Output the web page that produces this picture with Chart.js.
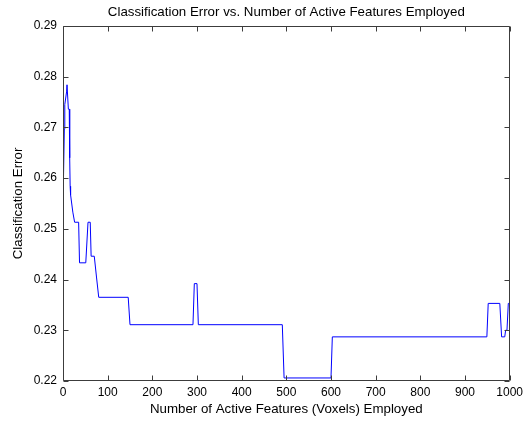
<!DOCTYPE html>
<html><head><meta charset="utf-8">
<script src="https://cdn.jsdelivr.net/npm/chart.js@4.4.1/dist/chart.umd.min.js"></script>
<style>html,body{margin:0;padding:0;background:#fff;overflow:hidden}</style>
</head><body>
<canvas id="c" width="527" height="421" style="display:block;width:527px;height:421px"></canvas>
<script>
// Number of active features (x) and classification error (y)
const featureCounts = [1, 3, 4, 8, 9, 11, 12, 14, 15, 16, 17, 22, 26, 35, 37, 51, 56, 61, 63, 70, 75, 80,
  146, 150, 291, 294, 300, 303, 491, 495, 600, 603, 949, 952, 978, 982, 989, 991, 994, 997, 1000];
const errorRates = [0.2595, 0.2697, 0.2745, 0.2770, 0.2784, 0.2784, 0.2736, 0.2736, 0.2640, 0.2584, 0.2567, 0.2533, 0.2513, 0.2513, 0.2433, 0.2433, 0.2513, 0.2513, 0.2446, 0.2446, 0.2405, 0.2365,
  0.2365, 0.2311, 0.2311, 0.2392, 0.2392, 0.2311, 0.2311, 0.2206, 0.2206, 0.2287, 0.2287, 0.2353, 0.2353, 0.2287, 0.2287, 0.2300, 0.2300, 0.2353, 0.2353];
const xTicks = [0, 100, 200, 300, 400, 500, 600, 700, 800, 900, 1000];
const yTicks = [0.22, 0.23, 0.24, 0.25, 0.26, 0.27, 0.28, 0.29];

const points = featureCounts.map((f, i) => ({x: f, y: errorRates[i]}));
const FONT = 'Liberation Sans, Arial, Helvetica, sans-serif';

const boxPlugin = {
  id: 'box',
  afterDraw(chart) {
    const {ctx, chartArea: a, scales: {x, y}} = chart;
    const L = Math.round(a.left) + 0.5, R = Math.round(a.right) - 0.5;
    const T = Math.round(a.top) + 0.5, B = Math.round(a.bottom) - 0.5;
    ctx.save();
    ctx.strokeStyle = '#3c3c3c';
    ctx.lineWidth = 1;
    ctx.beginPath();
    ctx.rect(L, T, R - L, B - T);
    const tl = 5;
    xTicks.forEach(v => {
      const px = Math.round(x.getPixelForValue(v)) + 0.5;
      ctx.moveTo(px, B); ctx.lineTo(px, B - tl);
      ctx.moveTo(px, T); ctx.lineTo(px, T + tl);
    });
    yTicks.forEach(v => {
      const py = Math.round(y.getPixelForValue(v)) + 0.5;
      ctx.moveTo(L, py); ctx.lineTo(L + tl, py);
      ctx.moveTo(R, py); ctx.lineTo(R - tl, py);
    });
    ctx.stroke();
    ctx.restore();
  }
};

new Chart(document.getElementById('c'), {
  type: 'line',
  data: {
    datasets: [{
      data: points,
      borderColor: '#0000ff',
      borderWidth: 1,
      pointRadius: 0,
      tension: 0,
      fill: false
    }]
  },
  options: {
    responsive: false,
    devicePixelRatio: 1,
    animation: false,
    layout: {padding: {left: 0, right: 15, top: 0, bottom: 0}},
    plugins: {
      legend: {display: false},
      tooltip: {enabled: false},
      title: {
        display: true,
        fullSize: false,
        text: 'Classification Error vs. Number of Active Features Employed',
        color: '#000',
        font: {family: FONT, size: 13.3, weight: 'normal', lineHeight: 1.2},
        padding: {top: 4, bottom: 6}
      }
    },
    scales: {
      x: {
        type: 'linear',
        min: 0, max: 1000,
        afterBuildTicks: s => { s.ticks = xTicks.map(v => ({value: v})); },
        afterFit: s => { s.height = 40; },
        grid: {display: false, drawTicks: false},
        border: {display: false},
        ticks: {color: '#000', font: {family: FONT, size: 12}, padding: 4, maxRotation: 0, autoSkip: false,
          callback: v => String(v)},
        title: {display: true, text: 'Number of Active Features (Voxels) Employed', color: '#000',
          font: {family: FONT, size: 13.3, lineHeight: 1.2}, padding: {top: 0, bottom: 4}}
      },
      y: {
        type: 'linear',
        min: 0.22, max: 0.29,
        afterBuildTicks: s => { s.ticks = yTicks.map(v => ({value: v})); },
        afterFit: s => { s.width = 63; },
        grid: {display: false, drawTicks: false},
        border: {display: false},
        ticks: {color: '#000', font: {family: FONT, size: 12}, padding: 6, callback: v => v.toFixed(2), autoSkip: false},
        title: {display: true, text: 'Classification Error', color: '#000',
          font: {family: FONT, size: 13.3, lineHeight: 1.2}, padding: {top: 10, bottom: 0}}
      }
    }
  },
  plugins: [boxPlugin]
});
</script>
</body></html>
